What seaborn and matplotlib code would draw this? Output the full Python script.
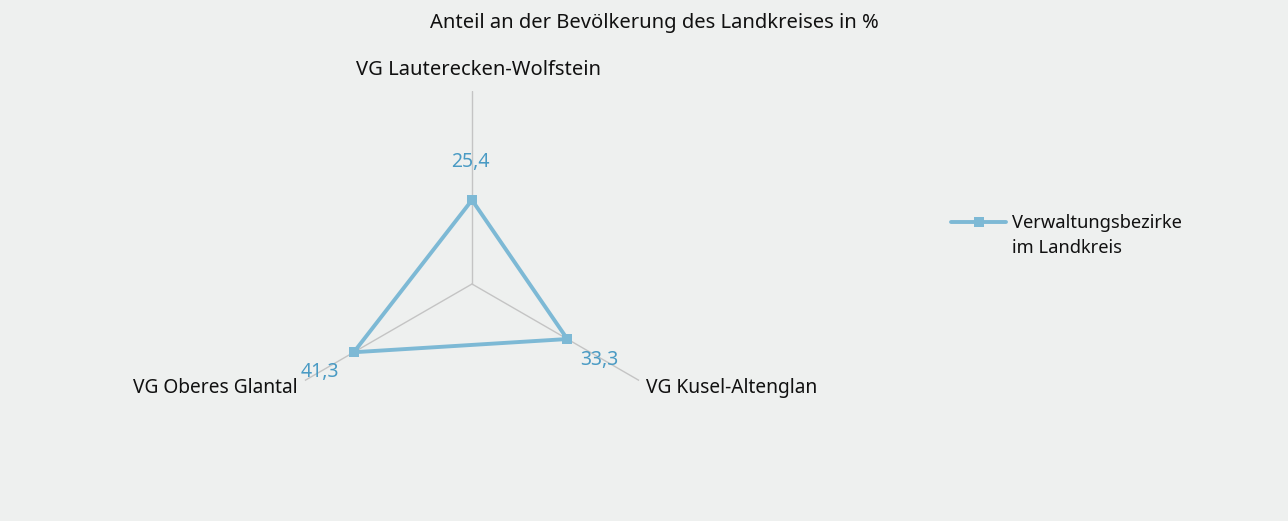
import numpy as np
import pandas as pd
import matplotlib
matplotlib.use("Agg")
import matplotlib.pyplot as plt
from matplotlib.lines import Line2D
import seaborn as sns

categories = ["VG Lauterecken-Wolfstein", "VG Kusel-Altenglan", "VG Oberes Glantal"]
values = [25.4, 33.3, 41.3]
value_labels = ["25,4", "33,3", "41,3"]
series_name = ["Verwaltungsbezirke", "im Landkreis"]
title = "Anteil an der Bevölkerung des Landkreises in %"

sns.set_theme(style="white")
plt.rcParams["font.family"] = ["Noto Sans", "DejaVu Sans"]

BG = "#EEF0EF"
LINE = "#7DB9D5"
LABEL = "#4A9BC4"
RMAX = 58.4
FS = 14.5

W, H = 1288, 521
fig = plt.figure(figsize=(W / 100, H / 100), dpi=100, facecolor=BG)
cx, cy, R = 472, 521 - 284, 193
ax = fig.add_axes([(cx - R) / W, (cy - R) / H, 2 * R / W, 2 * R / H], projection="polar")
ax.set_facecolor(BG)
ax.set_theta_offset(np.pi / 2)
ax.set_theta_direction(-1)

n = len(categories)
angles = np.linspace(0, 2 * np.pi, n, endpoint=False)
df = pd.DataFrame({"theta": list(angles) + [angles[0]], "r": values + [values[0]]})
sns.lineplot(data=df, x="theta", y="r", sort=False, ax=ax, color=LINE, linewidth=2.8,
             marker="s", markersize=6.5, markeredgewidth=0, estimator=None)

ax.set_ylim(0, RMAX)
ax.set_xticks(angles)
ax.set_xticklabels([])
ax.set_yticks([])
ax.set_xlabel("")
ax.set_ylabel("")
ax.spines["polar"].set_visible(False)
ax.xaxis.grid(True, color="#C4C4C4", linewidth=1.0)
ax.yaxis.grid(False)

cat_offsets = [((7, 21), "center", "center", FS), ((7, -7), "left", "center", 13.8),
               ((-7, -7), "right", "center", 13.8)]
for a, cat, (off, ha, va, fs) in zip(angles, categories, cat_offsets):
    ax.annotate(cat, xy=(a, RMAX), xytext=off, textcoords="offset pixels",
                ha=ha, va=va, fontsize=fs, color="#111111", annotation_clip=False)

val_offsets = [(-2, 38), (32, -21), (-34, -20)]
for a, v, lab, off in zip(angles, values, value_labels, val_offsets):
    ax.annotate(lab, xy=(a, v), xytext=off, textcoords="offset pixels",
                ha="center", va="center", fontsize=14, color=LABEL, annotation_clip=False)

fig.text(654 / W, 1 - 23 / H, title, ha="center", va="center", fontsize=FS, color="#111111")

handle = Line2D([0], [0], color=LINE, linewidth=2.8, marker="s", markersize=6.5, markeredgewidth=0)
leg = fig.legend([handle], [series_name[0]], loc="center left", bbox_to_anchor=(951 / W, 1 - 223 / H),
                 frameon=False, fontsize=13.2, handlelength=3.0, handletextpad=0.3,
                 borderaxespad=0, borderpad=0)
for t in leg.get_texts():
    t.set_color("#111111")
fig.canvas.draw()
tx = leg.get_texts()[0].get_window_extent().x0
fig.text(tx / W, 1 - 248 / H, series_name[1], ha="left", va="center", fontsize=13.2, color="#111111")

fig.savefig("out.png", dpi=100, facecolor=BG)
